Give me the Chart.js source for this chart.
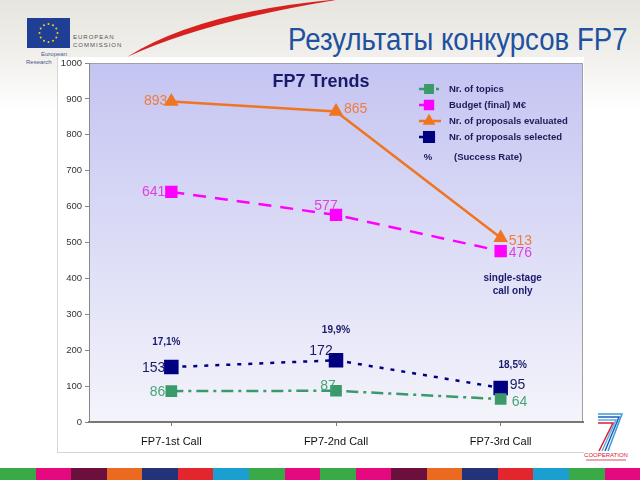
<!DOCTYPE html>
<html>
<head>
<meta charset="utf-8">
<script src="https://cdn.jsdelivr.net/npm/chart.js@4"></script>
<style>
  html, body { margin: 0; padding: 0; }
  body {
    width: 640px; height: 480px; position: relative; overflow: hidden;
    background: linear-gradient(#e6e5df 0px, #efeeea 50px, #ffffff 110px);
    font-family: "Liberation Sans", Arial, sans-serif;
  }
  #title {
    position: absolute; right: 13px; top: 22px; white-space: nowrap;
    font-size: 31px; color: #2050a0; transform: scaleX(0.89); transform-origin: right center;
  }
  #box {
    position: absolute; left: 57px; top: 57px; width: 527px; height: 396px;
    background: #fff; border-left: 1px solid #d6d6d6; border-bottom: 1px solid #d6d6d6;
    box-sizing: border-box;
  }
  #strip { position: absolute; left: 0; top: 468px; width: 640px; height: 12px; display: flex; }
  #strip div { flex: 1; }
  .eu { position: absolute; font-size: 6px; letter-spacing: 1px; color: #555; }
  .res { position: absolute; font-size: 6px; color: #4a5a8a; }
</style>
</head>
<body>
<svg width="640" height="480" style="position:absolute;left:0;top:0">
  <!-- red swoosh -->
  <path d="M127,57 Q200,11 342,-1 Q205,21 127,57 Z" fill="#d8201e"/>
  <!-- EU flag -->
  <rect x="27" y="18" width="43" height="30" fill="#1f3f95"/>
  <g fill="#f5d21a">
    <circle cx="48.5" cy="24" r="1"/><circle cx="53" cy="25.2" r="1"/><circle cx="56.3" cy="28.5" r="1"/>
    <circle cx="57.5" cy="33" r="1"/><circle cx="56.3" cy="37.5" r="1"/><circle cx="53" cy="40.8" r="1"/>
    <circle cx="48.5" cy="42" r="1"/><circle cx="44" cy="40.8" r="1"/><circle cx="40.7" cy="37.5" r="1"/>
    <circle cx="39.5" cy="33" r="1"/><circle cx="40.7" cy="28.5" r="1"/><circle cx="44" cy="25.2" r="1"/>
  </g>
  <!-- cooperation 7 -->
  <g fill="none" stroke-width="1.5">
    <polyline points="598,414 622,414 608,451" stroke="#3a9ae0"/>
    <polyline points="598,417 619,417 605,451" stroke="#1e5fb8"/>
    <polyline points="598,420 616,420 602,451" stroke="#5ab0e8"/>
    <polyline points="598,423 613,423 599,451" stroke="#d82030"/>
  </g>
  <line x1="586" y1="460" x2="626" y2="460" stroke="#d82030" stroke-width="0.8"/>
  <text x="606" y="457" font-size="6" fill="#d82030" text-anchor="middle" font-family="Liberation Sans">COOPERATION</text>
</svg>
<div class="eu" style="left:73px;top:34px">EUROPEAN</div>
<div class="eu" style="left:73px;top:42px">COMMISSION</div>
<div class="res" style="left:41px;top:51px">European</div>
<div class="res" style="left:26px;top:59px">Research</div>
<div id="title">Результаты конкурсов FP7</div>
<div id="box"><canvas id="chart"></canvas></div>
<div id="strip">
  <div style="background:#3aaa48"></div><div style="background:#e5097f"></div><div style="background:#6d0f3d"></div>
  <div style="background:#ea6a1f"></div><div style="background:#24327a"></div><div style="background:#e3262d"></div>
  <div style="background:#1a9fd0"></div><div style="background:#3aaa48"></div><div style="background:#e5097f"></div>
  <div style="background:#3aaa48"></div><div style="background:#e5097f"></div><div style="background:#6d0f3d"></div>
  <div style="background:#ea6a1f"></div><div style="background:#24327a"></div><div style="background:#e3262d"></div>
  <div style="background:#1a9fd0"></div><div style="background:#3aaa48"></div><div style="background:#e5097f"></div>
</div>
<script>
// chart data
var calls = ['FP7-1st Call', 'FP7-2nd Call', 'FP7-3rd Call'];
var topics = [86, 87, 64];
var budget = [641, 577, 476];
var evaluated = [893, 865, 513];
var selected = [153, 172, 95];
var successRate = ['17,1%', '19,9%', '18,5%'];

// where each value label sits relative to its point: [dx, dy, align]
var labelPlace = [
  [[-6, 1, 'right'], [-8, -5, 'center'], [11, 3, 'left']],
  [[-6, 0, 'right'], [-10, -9, 'center'], [8, 2, 'left']],
  [[-4, 0, 'right'], [8, -2, 'left'], [8, 3, 'left']],
  [[-6, 1, 'right'], [-15, -9, 'center'], [9, -3, 'left']]
];
var labelColors = ['#4aa378', '#e040e0', '#f07d3c', '#1a1a6a'];
var rateShift = [[-5, -25], [0, -30], [12, -23]];

var overlay = {
  id: 'overlay',
  beforeDraw: function(chart) {
    var ctx = chart.ctx, a = chart.chartArea;
    var g = ctx.createLinearGradient(0, a.top, 0, a.bottom);
    g.addColorStop(0, '#c4c4f2');
    g.addColorStop(1, '#f4f4fb');
    ctx.save();
    ctx.fillStyle = g;
    ctx.fillRect(a.left, a.top, a.right - a.left, a.bottom - a.top);
    ctx.strokeStyle = '#a0a0a0';
    ctx.lineWidth = 1;
    ctx.strokeRect(a.left + 0.5, a.top + 0.5, a.right - a.left - 1, a.bottom - a.top - 1);
    ctx.restore();
  },
  afterDatasetsDraw: function(chart) {
    var ctx = chart.ctx, a = chart.chartArea;
    ctx.save();
    ctx.textBaseline = 'middle';

    // value labels
    ctx.font = '14px "Liberation Sans", Arial';
    chart.data.datasets.forEach(function(ds, i) {
      var meta = chart.getDatasetMeta(i);
      meta.data.forEach(function(pt, j) {
        var p = labelPlace[i][j];
        ctx.fillStyle = labelColors[i];
        ctx.textAlign = p[2];
        ctx.fillText(ds.data[j], pt.x + p[0], pt.y + p[1]);
      });
    });

    // success rates above the selected points
    ctx.font = 'bold 10px "Liberation Sans", Arial';
    ctx.fillStyle = '#1a1a6a';
    ctx.textAlign = 'center';
    chart.getDatasetMeta(3).data.forEach(function(pt, j) {
      ctx.fillText(successRate[j], pt.x + rateShift[j][0], pt.y + rateShift[j][1]);
    });
    var x3 = chart.scales.x.getPixelForValue(2) + 12;
    ctx.fillText('single-stage', x3, a.top + 215);
    ctx.fillText('call only', x3, a.top + 228);

    // chart title
    ctx.font = 'bold 18px "Liberation Sans", Arial';
    ctx.fillStyle = '#1a1a6a';
    ctx.fillText('FP7 Trends', a.left + 232, a.top + 19);

    // legend
    var lx = a.left + 330, ly = a.top + 26;
    chart.data.datasets.forEach(function(ds, i) {
      var y = ly + i * 16;
      ctx.strokeStyle = ds.borderColor;
      ctx.lineWidth = 2.5;
      ctx.setLineDash(ds.borderDash || []);
      ctx.beginPath();
      ctx.moveTo(lx, y);
      ctx.lineTo(lx + 22, y);
      ctx.stroke();
      ctx.setLineDash([]);
      Chart.helpers.drawPoint(ctx, { pointStyle: ds.pointStyle, radius: ds.pointRadius * 0.8, borderWidth: 1 }, lx + 10, y);
      ctx.fillStyle = ds.borderColor;
      ctx.fill();
      ctx.font = 'bold 9.5px "Liberation Sans", Arial';
      ctx.fillStyle = '#1a1a5a';
      ctx.textAlign = 'left';
      ctx.fillText(ds.label, lx + 30, y);
    });
    ctx.textAlign = 'center';
    ctx.fillText('%', lx + 9, ly + 68);
    ctx.textAlign = 'left';
    ctx.fillText('(Success Rate)', lx + 35, ly + 68);
    ctx.restore();
  }
};

new Chart(document.getElementById('chart'), {
  type: 'line',
  data: {
    labels: calls,
    datasets: [
      {
        label: 'Nr. of topics',
        data: topics,
        borderColor: '#3a9a6a',
        backgroundColor: '#3a9a6a',
        borderWidth: 2.5,
        borderDash: [12, 5, 3, 5],
        pointStyle: 'rect',
        pointRadius: 6.5
      },
      {
        label: 'Budget (final) M€',
        data: budget,
        borderColor: '#ff00ff',
        backgroundColor: '#ff00ff',
        borderWidth: 2.5,
        borderDash: [13, 9],
        pointStyle: 'rect',
        pointRadius: 7
      },
      {
        label: 'Nr. of proposals evaluated',
        data: evaluated,
        borderColor: '#f07522',
        backgroundColor: '#f07522',
        borderWidth: 2.5,
        pointStyle: 'triangle',
        pointRadius: 6
      },
      {
        label: 'Nr. of proposals selected',
        data: selected,
        borderColor: '#000080',
        backgroundColor: '#000080',
        borderWidth: 2.5,
        borderDash: [4, 7],
        pointStyle: 'rect',
        pointRadius: 8.5
      }
    ]
  },
  options: {
    responsive: true,
    maintainAspectRatio: false,
    animation: false,
    layout: { autoPadding: false, padding: { top: 6, right: 1, left: 0, bottom: 0 } },
    plugins: { legend: { display: false }, tooltip: { enabled: false } },
    scales: {
      x: {
        offset: true,
        afterFit: function(s) { s.height = 30; s.paddingLeft = 0; s.paddingRight = 0; },
        grid: { drawOnChartArea: false, tickLength: 4, color: '#777' },
        border: { color: '#777', width: 2 },
        ticks: { color: '#111', padding: 9, font: { size: 11, family: '"Liberation Sans", Arial' } }
      },
      y: {
        min: 0,
        max: 1000,
        afterFit: function(s) { s.width = 31; s.paddingTop = 0; s.paddingBottom = 0; },
        grid: { drawOnChartArea: false, tickLength: 4, color: '#888' },
        border: { color: '#888' },
        ticks: {
          stepSize: 100, color: '#333', padding: 3,
          font: { size: 9.5, family: '"Liberation Sans", Arial' },
          callback: function(v) { return String(v); }
        }
      }
    }
  },
  plugins: [overlay]
});
</script>
</body>
</html>
